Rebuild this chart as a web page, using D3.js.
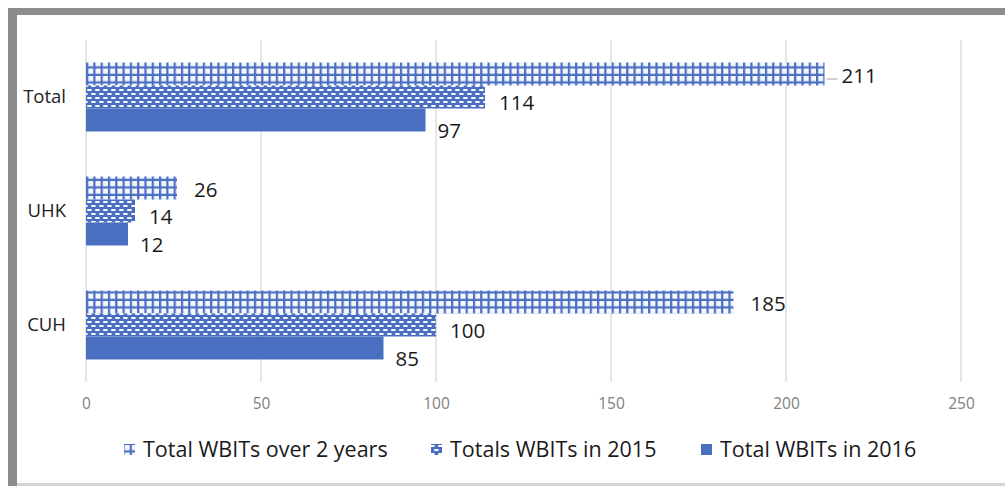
<!DOCTYPE html>
<html>
<head>
<meta charset="utf-8">
<script src="https://cdn.jsdelivr.net/npm/d3@7"></script>
<style>
  body { margin: 0; background: #fff; }
  text { font-family: "Open Sans", sans-serif; }
</style>
</head>
<body>
<div id="chart"></div>
<script>
const width = 1005;
const height = 486;

// data
const categories = ["Total", "UHK", "CUH"];
const seriesNames = ["Total WBITs over 2 years", "Totals WBITs in 2015", "Total WBITs in 2016"];
const overTwoYears = [211, 26, 185];
const in2015 = [114, 14, 100];
const in2016 = [97, 12, 85];
const xTicks = [0, 50, 100, 150, 200, 250];

const seriesValues = [overTwoYears, in2015, in2016];
const blue = "#4a6fc0";

const svg = d3.select("#chart")
    .append("svg")
    .attr("width", width)
    .attr("height", height);

// patterns
const defs = svg.append("defs");

let grid = defs.append("pattern")
    .attr("id", "grid")
    .attr("patternUnits", "userSpaceOnUse")
    .attr("width", 7.3).attr("height", 7.5)
    .attr("x", 86).attr("y", 1);
grid.append("rect").attr("width", 7.3).attr("height", 7.5).attr("fill", "#f4f6fc");
grid.append("rect").attr("x", 0).attr("width", 2.2).attr("height", 7.5).attr("fill", blue);
grid.append("rect").attr("y", 5.3).attr("width", 7.3).attr("height", 2.2).attr("fill", blue);

let weave = defs.append("pattern")
    .attr("id", "weave")
    .attr("patternUnits", "userSpaceOnUse")
    .attr("width", 8).attr("height", 8)
    .attr("x", 86).attr("y", 0);
weave.append("rect").attr("width", 8).attr("height", 8).attr("fill", blue);
weave.append("rect").attr("x", 1).attr("y", 1).attr("width", 4.8).attr("height", 2).attr("rx", 1).attr("fill", "#ffffff");
weave.append("rect").attr("x", 5).attr("y", 5).attr("width", 4.8).attr("height", 2).attr("rx", 1).attr("fill", "#ffffff");
weave.append("rect").attr("x", -3).attr("y", 5).attr("width", 4.8).attr("height", 2).attr("rx", 1).attr("fill", "#ffffff");

const fills = ["url(#grid)", "url(#weave)", blue];

// frame round the picture
svg.append("rect").attr("x", 8).attr("y", 8).attr("width", width - 8).attr("height", 7).attr("fill", "#8c8c8c");
svg.append("rect").attr("x", 8).attr("y", 8).attr("width", 9).attr("height", height - 8).attr("fill", "#8c8c8c");
svg.append("rect").attr("x", 17).attr("y", 483).attr("width", width - 17).attr("height", 3).attr("fill", "#d4d4d4");

// scales
const x = d3.scaleLinear().domain([0, 250]).range([86, 961]);
const y = d3.scaleBand().domain(categories).range([40, 382])
    .paddingInner(0.395).paddingOuter(0.1975);
const ySeries = d3.scaleBand().domain(d3.range(seriesNames.length)).range([0, y.bandwidth()]);

// gridlines
svg.append("g")
    .selectAll("line")
    .data(xTicks)
    .enter()
    .append("line")
    .attr("x1", d => x(d)).attr("x2", d => x(d))
    .attr("y1", 40).attr("y2", 382)
    .attr("stroke", "#dcdcdc")
    .attr("stroke-width", 1.5);

// x axis
const xAxis = svg.append("g")
    .attr("transform", "translate(0,382)")
    .call(d3.axisBottom(x).tickValues(xTicks).tickSize(0).tickPadding(16));
xAxis.select(".domain").remove();
xAxis.selectAll("text")
    .attr("font-family", "Open Sans")
    .attr("font-size", 15.5)
    .attr("fill", "#808080");

// y axis
const yAxis = svg.append("g")
    .attr("transform", "translate(86,0)")
    .call(d3.axisLeft(y).tickSize(0).tickPadding(20));
yAxis.select(".domain").remove();
yAxis.selectAll("text")
    .attr("font-family", "Open Sans")
    .attr("font-size", 18.5)
    .attr("fill", "#222");

// bars
const rows = [];
categories.forEach((c, i) => {
    seriesValues.forEach((vals, s) => {
        rows.push({ cat: c, s: s, v: vals[i] });
    });
});

svg.append("g")
    .selectAll("rect")
    .data(rows)
    .enter()
    .append("rect")
    .attr("x", x(0))
    .attr("y", d => y(d.cat) + ySeries(d.s))
    .attr("width", d => x(d.v) - x(0))
    .attr("height", ySeries.bandwidth())
    .attr("fill", d => fills[d.s]);

// value labels (sit a bit low, as in the original)
const labelDy = [2, 6, 11];
const labelDx = [17, 14, 12];
svg.append("g")
    .selectAll("text")
    .data(rows)
    .enter()
    .append("text")
    .attr("x", d => x(d.v) + labelDx[d.s])
    .attr("y", d => y(d.cat) + ySeries(d.s) + ySeries.bandwidth() / 2 + labelDy[d.s])
    .attr("dy", "0.35em")
    .attr("font-size", 20.5)
    .attr("fill", "#1a1a1a")
    .text(d => d.v);

// leader line for the 211 label
svg.append("line")
    .attr("x1", x(overTwoYears[0]) + 2).attr("x2", x(overTwoYears[0]) + 13)
    .attr("y1", y("Total") + ySeries.bandwidth() / 2 + 5)
    .attr("y2", y("Total") + ySeries.bandwidth() / 2 + 5)
    .attr("stroke", "#a6a6a6").attr("stroke-width", 1);

// legend
const legendX = [124, 431, 701];
const legend = svg.append("g")
    .selectAll("g")
    .data(seriesNames)
    .enter()
    .append("g")
    .attr("transform", (d, i) => "translate(" + legendX[i] + ",444)");
legend.append("rect")
    .attr("width", 11).attr("height", 11)
    .attr("fill", (d, i) => fills[i]);
legend.append("text")
    .attr("x", 19)
    .attr("y", 5.5)
    .attr("dy", "0.35em")
    .attr("font-size", 21.5)
    .attr("fill", "#1a1a1a")
    .text(d => d);
</script>
</body>
</html>
